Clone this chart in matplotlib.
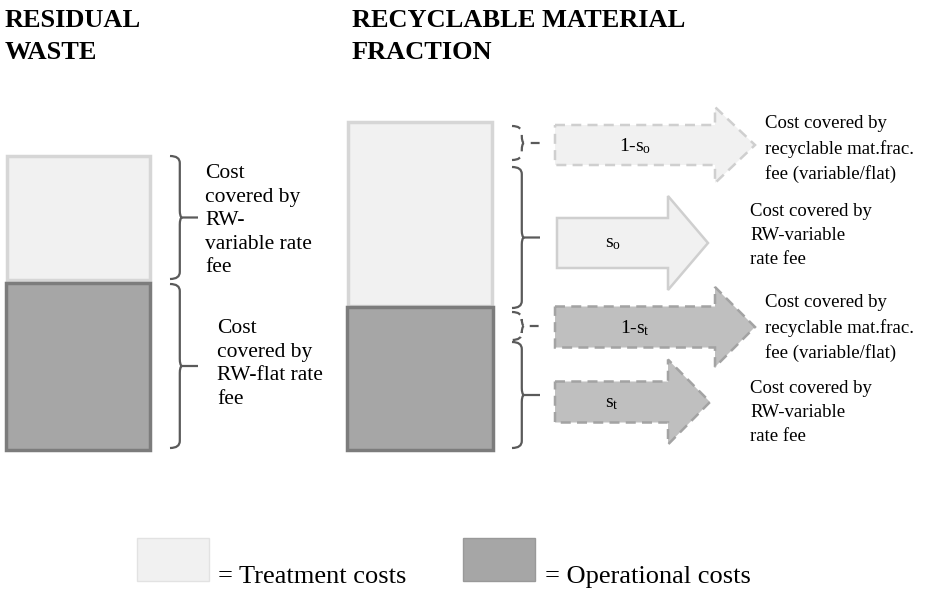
import matplotlib
matplotlib.use("Agg")
import matplotlib.pyplot as plt
from matplotlib.patches import Rectangle, Polygon, PathPatch
from matplotlib.path import Path

plt.rcParams["font.family"] = "Liberation Serif"
plt.rcParams["mathtext.fontset"] = "custom"
plt.rcParams["mathtext.rm"] = "Liberation Serif"
plt.rcParams["mathtext.it"] = "Liberation Serif"

# colours
LIGHT_FILL, LIGHT_EDGE = "#f1f1f1", "#d6d6d6"
DARK_FILL, DARK_EDGE = "#a6a6a6", "#7c7c7c"
ARR_LIGHT_FILL, ARR_LIGHT_EDGE = "#f1f1f1", "#cfcfcf"
ARR_DARK_FILL, ARR_DARK_EDGE = "#bfbfbf", "#a3a3a3"
BRACE_COLOR = "#5a5a5a"

# content
titles = ["RESIDUAL\nWASTE", "RECYCLABLE MATERIAL\nFRACTION"]
rw_texts = ["Cost\ncovered by\nRW-\nvariable rate\nfee",
            "Cost\ncovered by\nRW-flat rate\nfee"]
arrow_labels = ["1-s$_\\mathrm{o}$", "s$_\\mathrm{o}$", "1-s$_\\mathrm{t}$", "s$_\\mathrm{t}$"]
arrow_dashed = [True, False, True, True]
arrow_dark = [False, False, True, True]
rm_texts = ["Cost covered by\nrecyclable mat.frac.\nfee (variable/flat)",
            "Cost covered by\nRW-variable\nrate fee",
            "Cost covered by\nrecyclable mat.frac.\nfee (variable/flat)",
            "Cost covered by\nRW-variable\nrate fee"]
legend_labels = ["= Treatment costs", "= Operational costs"]

# layout (pixel coords, y down)
W, H = 928, 589
rw_boxes = [(7, 156, 143, 124), (6, 283, 144, 167)]      # x, y, w, h
rm_boxes = [(348, 122, 144, 184), (347, 307, 146, 143)]
rw_braces = [(170, 156, 279, False), (170, 284, 448, False)]  # x, y0, y1, dashed
rm_braces = [(512, 126, 160, True), (512, 167, 308, False),
             (512, 312, 340, True), (512, 342, 448, False)]
# x0, xh, xt, yc, body_h, head_h
arrows = [(555, 715, 755, 145, 40, 76),
          (557, 668, 708, 243, 50, 94),
          (555, 715, 755, 327, 41, 80),
          (555, 668, 710, 402, 41, 85)]
rm_text_pos = [(765, 115), (750, 203), (765, 294), (750, 380)]

fig = plt.figure(figsize=(W / 100, H / 100), dpi=100)
ax = fig.add_axes([0, 0, 1, 1])
ax.set_xlim(0, W)
ax.set_ylim(H, 0)
ax.axis("off")


def brace(x, y0, y1, dashed, w=14, tip=14):
    ym = (y0 + y1) / 2
    xm = x + w * 0.7
    r = 7
    verts = [(x, y0), (xm, y0), (xm, y0 + r), (xm, y0 + r + 2),
             (xm, ym - r), (xm, ym - 1), (xm + 2, ym), (x + w + tip, ym),
             (xm + 2, ym), (xm, ym + 1), (xm, ym + r),
             (xm, y1 - r - 2), (xm, y1 - r), (xm, y1), (x, y1)]
    codes = [Path.MOVETO, Path.CURVE3, Path.CURVE3, Path.LINETO,
             Path.LINETO, Path.CURVE3, Path.CURVE3, Path.LINETO,
             Path.MOVETO, Path.CURVE3, Path.CURVE3,
             Path.LINETO, Path.LINETO, Path.CURVE3, Path.CURVE3]
    ls = (0, (4, 3)) if dashed else "-"
    ax.add_patch(PathPatch(Path(verts, codes), fill=False, ec=BRACE_COLOR,
                           lw=1.6, ls=ls))


def block_arrow(x0, xh, xt, yc, bh, hh, dashed, dark):
    pts = [(x0, yc - bh / 2), (xh, yc - bh / 2), (xh, yc - hh / 2), (xt, yc),
           (xh, yc + hh / 2), (xh, yc + bh / 2), (x0, yc + bh / 2)]
    fc, ec = (ARR_DARK_FILL, ARR_DARK_EDGE) if dark else (ARR_LIGHT_FILL, ARR_LIGHT_EDGE)
    ls = (0, (4, 2.5)) if dashed else "-"
    ax.add_patch(Polygon(pts, closed=True, fc=fc, ec=ec, lw=1.8, ls=ls))


# titles
ax.text(5, 9, titles[0], fontsize=19, fontweight="bold", va="top", ha="left",
        linespacing=1.5)
ax.text(352, 9, titles[1], fontsize=19, fontweight="bold", va="top", ha="left",
        linespacing=1.5)

# boxes
for (x, y, w, h), fc, ec in zip(rw_boxes + rm_boxes,
                                [LIGHT_FILL, DARK_FILL] * 2,
                                [LIGHT_EDGE, DARK_EDGE] * 2):
    ax.add_patch(Rectangle((x, y), w, h, fc=fc, ec=ec, lw=2.5))

for b in rw_braces + rm_braces:
    brace(*b)

ax.text(205, 164, rw_texts[0], fontsize=15.5, va="top", ha="left", linespacing=1.33)
ax.text(217, 319, rw_texts[1], fontsize=15.5, va="top", ha="left", linespacing=1.33)

for (x0, xh, xt, yc, bh, hh), d, dk, lab in zip(arrows, arrow_dashed, arrow_dark,
                                                 arrow_labels):
    block_arrow(x0, xh, xt, yc, bh, hh, d, dk)
    ax.text((x0 + xh) / 2, yc + 1, lab, fontsize=14, ha="center", va="center")

for (x, y), t in zip(rm_text_pos, rm_texts):
    ax.text(x, y, t, fontsize=13.5, va="top", ha="left", linespacing=1.55)

# legend
ax.add_patch(Rectangle((137, 538), 72, 43, fc=LIGHT_FILL, ec="#e2e2e2", lw=1))
ax.add_patch(Rectangle((463, 538), 72, 43, fc=DARK_FILL, ec="#999999", lw=1))
ax.text(218, 583, legend_labels[0], fontsize=19, va="baseline", ha="left")
ax.text(545, 583, legend_labels[1], fontsize=19, va="baseline", ha="left")

fig.savefig("out.png", dpi=100)
